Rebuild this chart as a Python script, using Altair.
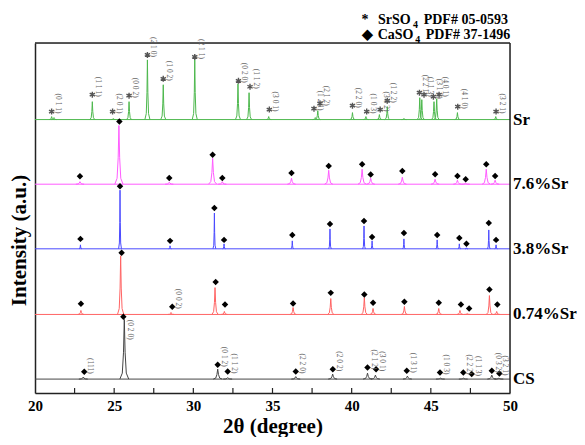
import altair as alt
import pandas as pd

FONT = "Liberation Serif"

# ---- series ----
series_names = ["Sr", "7.6%Sr", "3.8%Sr", "0.74%Sr", "CS"]
series_offsets = [275, 210, 145, 79, 14]
series_colors = ["#4db84d", "#ff5cff", "#4a4aff", "#ff6464", "#454545"]
peak_halfwidth = [0.16, 0.26, 0.09, 0.2, 0.28]

# ---- peaks (2theta, height above own baseline) ----
sr_peak_x = [21.05, 21.2, 23.62, 24.95, 25.94, 27.10, 28.10, 30.09, 32.82, 33.52, 34.76,
             37.70, 37.86, 40.05, 40.90, 41.75, 42.25, 43.30, 44.30, 44.43, 45.20, 45.37,
             46.68, 49.10]
sr_peak_h = [3, 2, 18, 1, 18, 60, 35, 60, 36, 27, 3, 2, 9, 7, 3, 5, 13, 1, 22, 20, 18, 21, 7, 3]

s76_peak_x = [22.84, 25.30, 28.48, 31.22, 31.83, 36.20, 38.55, 40.66, 41.20, 43.20, 45.27,
              46.68, 47.20, 48.50, 49.06]
s76_peak_h = [2.5, 59, 2, 26, 2.5, 6, 14, 15, 6, 7, 5, 4, 1, 15, 4]

s38_peak_x = [22.87, 25.37, 28.53, 31.33, 31.94, 36.25, 38.63, 40.78, 41.29, 43.30, 45.40,
              46.80, 47.25, 48.66, 49.12]
s38_peak_h = [4, 59, 3, 36, 5, 8, 20, 23, 8, 10, 9, 5, 1, 19, 4]

s074_peak_x = [22.90, 25.41, 28.59, 31.37, 31.96, 36.30, 38.68, 40.80, 41.35, 43.33, 45.50,
               46.84, 47.30, 48.70, 49.16]
s074_peak_h = [4, 59, 2, 27, 3, 7, 16, 17, 6, 8, 6, 4, 1, 19, 3]

cs_peak_x = [23.05, 25.64, 31.54, 32.17, 36.47, 38.80, 41.00, 41.50, 43.52, 45.60, 47.05,
             48.85, 49.30]
cs_peak_h = [2, 60, 10, 1.5, 2.5, 5, 6, 4, 3, 1, 1, 4, 1]

# ---- markers (2theta, height above own baseline) ----
sr_star_x = [21.05, 23.62, 24.90, 25.94, 27.10, 28.10, 30.09, 32.85, 33.58, 34.80, 37.62,
             38.00, 40.05, 40.95, 41.80, 42.25, 44.28, 44.57, 45.16, 45.52, 46.70, 49.12]
sr_star_h = [8, 25, 8, 24, 65, 41, 63, 39, 33, 10, 11, 16, 14, 8, 10, 19, 27, 25, 23, 25, 13, 8]
sr_star_lab = ["(0 1 1)", "(1 1 1)", "(2 0 1)", "(0 0 2)", "(2 1 0)", "(1 0 2)", "(2 1 1)",
               "(0 2 0)", "(1 1 2)", "(3 0 1)", "(1 2 1)", "(2 1 2)", "(2 2 0)", "(1 0 3)",
               "(3 0 2)", "(1 2 2)", "(2 2 1)", "(1 1 3)", "(3 1 2)", "(4 0 1)", "(4 1 0)",
               "(3 2 1)"]

s76_dia_x = [22.84, 25.33, 28.48, 31.22, 31.83, 36.20, 38.55, 40.66, 41.20, 43.20, 45.27,
             46.68, 47.20, 48.50, 49.06]
s76_dia_h = [8, 63, 6.3, 29.7, 6.3, 11.3, 18.3, 20, 9.7, 13.3, 10, 8.3, 5, 20, 8.3]

s38_dia_x = [22.87, 25.37, 28.53, 31.33, 31.94, 36.25, 38.63, 40.78, 41.29, 43.30, 45.40,
             46.80, 47.25, 48.66, 49.12]
s38_dia_h = [10, 63, 8, 41, 9, 14, 25, 28, 12, 16, 14, 11, 5, 26, 9]

s074_dia_x = [22.90, 25.47, 28.67, 31.41, 32.00, 36.30, 38.68, 40.80, 41.35, 43.33, 45.50,
              46.90, 47.42, 48.70, 49.20]
s074_dia_h = [10.7, 62, 7.7, 32.7, 10, 11, 21.7, 20, 11.7, 12.7, 11.7, 10, 6, 25, 10]
s074_lab_x = [28.67]
s074_lab_h = [7.7]
s074_lab = ["(0 0 2)"]

cs_dia_x = [23.11, 25.58, 31.54, 32.17, 36.47, 38.81, 41.00, 41.54, 43.48, 45.58, 47.05,
            47.58, 48.85, 49.33]
cs_dia_h = [7.3, 62.7, 14.3, 7.7, 7.7, 10, 11.7, 10, 8.3, 6.7, 6.7, 5, 8.3, 5.7]
cs_dia_lab = ["(111)", "(0 2 0)", "(0 1 2)", "(1 1 2)", "(2 2 0)", "(2 0 2)", "(2 1 2)",
              "(3 0 1)", "(1 3 1)", "(1 0 3)", "(2 2 2)", "(1 1 3)", "(0 3 2)", "(3 2 1)"]

tick_values = [20, 25, 30, 35, 40, 45, 50]
minor_ticks = [22.5, 25, 27.5, 30, 32.5, 35, 37.5, 40, 42.5, 45, 47.5]

# ---- build tables ----
peaks_all = [
    (sr_peak_x, sr_peak_h), (s76_peak_x, s76_peak_h), (s38_peak_x, s38_peak_h),
    (s074_peak_x, s074_peak_h), (cs_peak_x, cs_peak_h)]
shape_dx = [-1, -0.45, -0.18, 0, 0.18, 0.45, 1]
shape_fy = [0, 0.1, 0.45, 1, 0.45, 0.1, 0]

rows = []
for si, (px, ph) in enumerate(peaks_all):
    w = peak_halfwidth[si]
    base = series_offsets[si]
    for pi, (c, h) in enumerate(zip(px, ph)):
        for k, (dxk, fyk) in enumerate(zip(shape_dx, shape_fy)):
            rows.append({"series": series_names[si], "pk": f"{si}-{pi}", "o": k,
                         "x": c + dxk * w, "y": base + fyk * h})
peak_df = pd.DataFrame(rows)

base_df = pd.DataFrame({"series": series_names, "x": 20, "x2": 50, "y": series_offsets})

color_scale = alt.Scale(domain=series_names, range=series_colors)
xs = alt.Scale(domain=[20, 50], nice=False, zero=False)
ys = alt.Scale(domain=[0, 352], nice=False, zero=False)

xaxis = alt.Axis(values=tick_values, format="d", labelFont=FONT, labelFontSize=15,
                 labelFontWeight="bold", labelColor="black", labelPadding=5,
                 labelFlush=False, ticks=False, tickSize=0,
                 domain=True, domainColor="#222222", domainWidth=1.5, grid=False,
                 title="2θ (degree)", titleFont=FONT, titleFontSize=21,
                 titleFontWeight="bold", titleColor="black", titleY=39.5,
                 titleBaseline="alphabetic")
yaxis = alt.Axis(labels=False, ticks=False, domain=True, domainColor="#222222",
                 domainWidth=1.5, grid=False,
                 title="Intensity (a.u.)", titleFont=FONT, titleFontSize=21,
                 titleFontWeight="bold", titleColor="black", titleX=-15.5, titleY=197,
                 titleAngle=-90, titleAlign="center", titleBaseline="middle")


def X(field="x"):
    return alt.X(f"{field}:Q", scale=xs, axis=xaxis)


def Y(field="y"):
    return alt.Y(f"{field}:Q", scale=ys, axis=yaxis)


baseline = alt.Chart(base_df).mark_rule(strokeWidth=1).encode(
    x=X(), x2="x2:Q", y=Y(),
    color=alt.Color("series:N", scale=color_scale, legend=None))

peaks = alt.Chart(peak_df).mark_line(strokeWidth=1).encode(
    x=X(), y=Y(), order="o:Q", detail="pk:N",
    color=alt.Color("series:N", scale=color_scale, legend=None))

# plot frame: right and top edges (left/bottom come from the axis domains)
frame_v = alt.Chart(pd.DataFrame({"x": [50], "y": [0], "y2": [352]})).mark_rule(
    color="#222222", strokeWidth=1.5).encode(x=X(), y=Y(), y2="y2:Q")
frame_h = alt.Chart(pd.DataFrame({"x": [20], "x2": [50], "y": [352]})).mark_rule(
    color="#222222", strokeWidth=1.5).encode(x=X(), x2="x2:Q", y=Y())

# diamonds
drows = []
for si, (dx_, dh_) in zip([1, 2, 3, 4], [(s76_dia_x, s76_dia_h), (s38_dia_x, s38_dia_h),
                                         (s074_dia_x, s074_dia_h), (cs_dia_x, cs_dia_h)]):
    for a, b in zip(dx_, dh_):
        drows.append({"x": a, "y": series_offsets[si] + b})
dia_df = pd.DataFrame(drows)
diamonds = alt.Chart(dia_df).mark_point(shape="diamond", filled=True, color="black",
                                        size=42, opacity=1).encode(x=X(), y=Y())

star_df = pd.DataFrame({"x": sr_star_x, "y": [series_offsets[0] + h for h in sr_star_h],
                        "t": sr_star_lab})
ASTER = "M0,-1L0,1M-0.87,-0.5L0.87,0.5M-0.87,0.5L0.87,-0.5"
stars = alt.Chart(star_df).mark_point(shape=ASTER, filled=False, color="#555555",
                                      strokeWidth=1.4, size=36, opacity=1).encode(
    x=X(), y=Y())

lab_rows = [{"x": r["x"], "y": r["y"], "t": r["t"]} for r in star_df.to_dict("records")]
for a, b, t in zip(s074_lab_x, s074_lab_h, s074_lab):
    lab_rows.append({"x": a, "y": series_offsets[3] + b, "t": t})
below_rows = []
for a, b, t in zip(cs_dia_x, cs_dia_h, cs_dia_lab):
    if t == "(0 2 0)":
        below_rows.append({"x": a, "y": series_offsets[4] + b, "t": t})
    else:
        lab_rows.append({"x": a, "y": series_offsets[4] + b, "t": t})

hkl_up = alt.Chart(pd.DataFrame(lab_rows)).mark_text(
    angle=90, align="right", baseline="middle", dx=2, dy=-6, font=FONT, fontSize=7.5,
    color="#666666").encode(x=X(), y=Y(), text="t:N")
hkl_down = alt.Chart(pd.DataFrame(below_rows)).mark_text(
    angle=90, align="left", baseline="middle", dx=3, dy=-7, font=FONT, fontSize=7.5,
    color="#666666").encode(x=X(), y=Y(), text="t:N")

names = alt.Chart(pd.DataFrame({"x": 50, "y": series_offsets, "t": series_names})).mark_text(
    align="left", baseline="middle", dx=3, font=FONT, fontSize=17, fontWeight="bold",
    color="black").encode(x=X(), y=Y(), text="t:N")

ticks = alt.Chart(pd.DataFrame({"x": minor_ticks, "y": 0, "y2": 5})).mark_rule(
    color="#222222", strokeWidth=1.2).encode(x=X(), y=Y(), y2="y2:Q")

# ---- legend (top right) ----
leg_main = pd.DataFrame({"x": [41.66, 41.64], "y": [371, 356.5], "t": ["SrSO", "CaSO"]})
leg_sub = pd.DataFrame({"x": [43.88, 44.02], "y": [367, 352.5], "t": ["4", "4"]})
leg_pdf = pd.DataFrame({"x": [44.55, 44.68], "y": [371, 356.5],
                        "t": ["PDF# 05-0593", "PDF# 37-1496"]})
leg_sym = pd.DataFrame({"x": [40.84, 40.97], "y": [371, 356.5], "t": ["*", "◆"]})


def legtext(df, size, align="left"):
    return alt.Chart(df).mark_text(align=align, baseline="alphabetic", font=FONT,
                                   fontSize=size, fontWeight="bold", color="black").encode(
        x=X(), y=Y(), text="t:N")


legend = legtext(leg_main, 14) + legtext(leg_sub, 10) + legtext(leg_pdf, 14) + \
    legtext(leg_sym, 14, "center")

chart = alt.layer(baseline, peaks, ticks, frame_v, frame_h, diamonds, stars, hkl_up,
                  hkl_down, names, legend).properties(
    width=475, height=350,
    padding={"left": 27, "top": 35, "right": 67, "bottom": 44},
    autosize=alt.AutoSizeParams(type="none"),
).configure_view(strokeWidth=0).configure(background="white")

chart.save("out.html", embed_options={"renderer": "svg", "actions": False})
